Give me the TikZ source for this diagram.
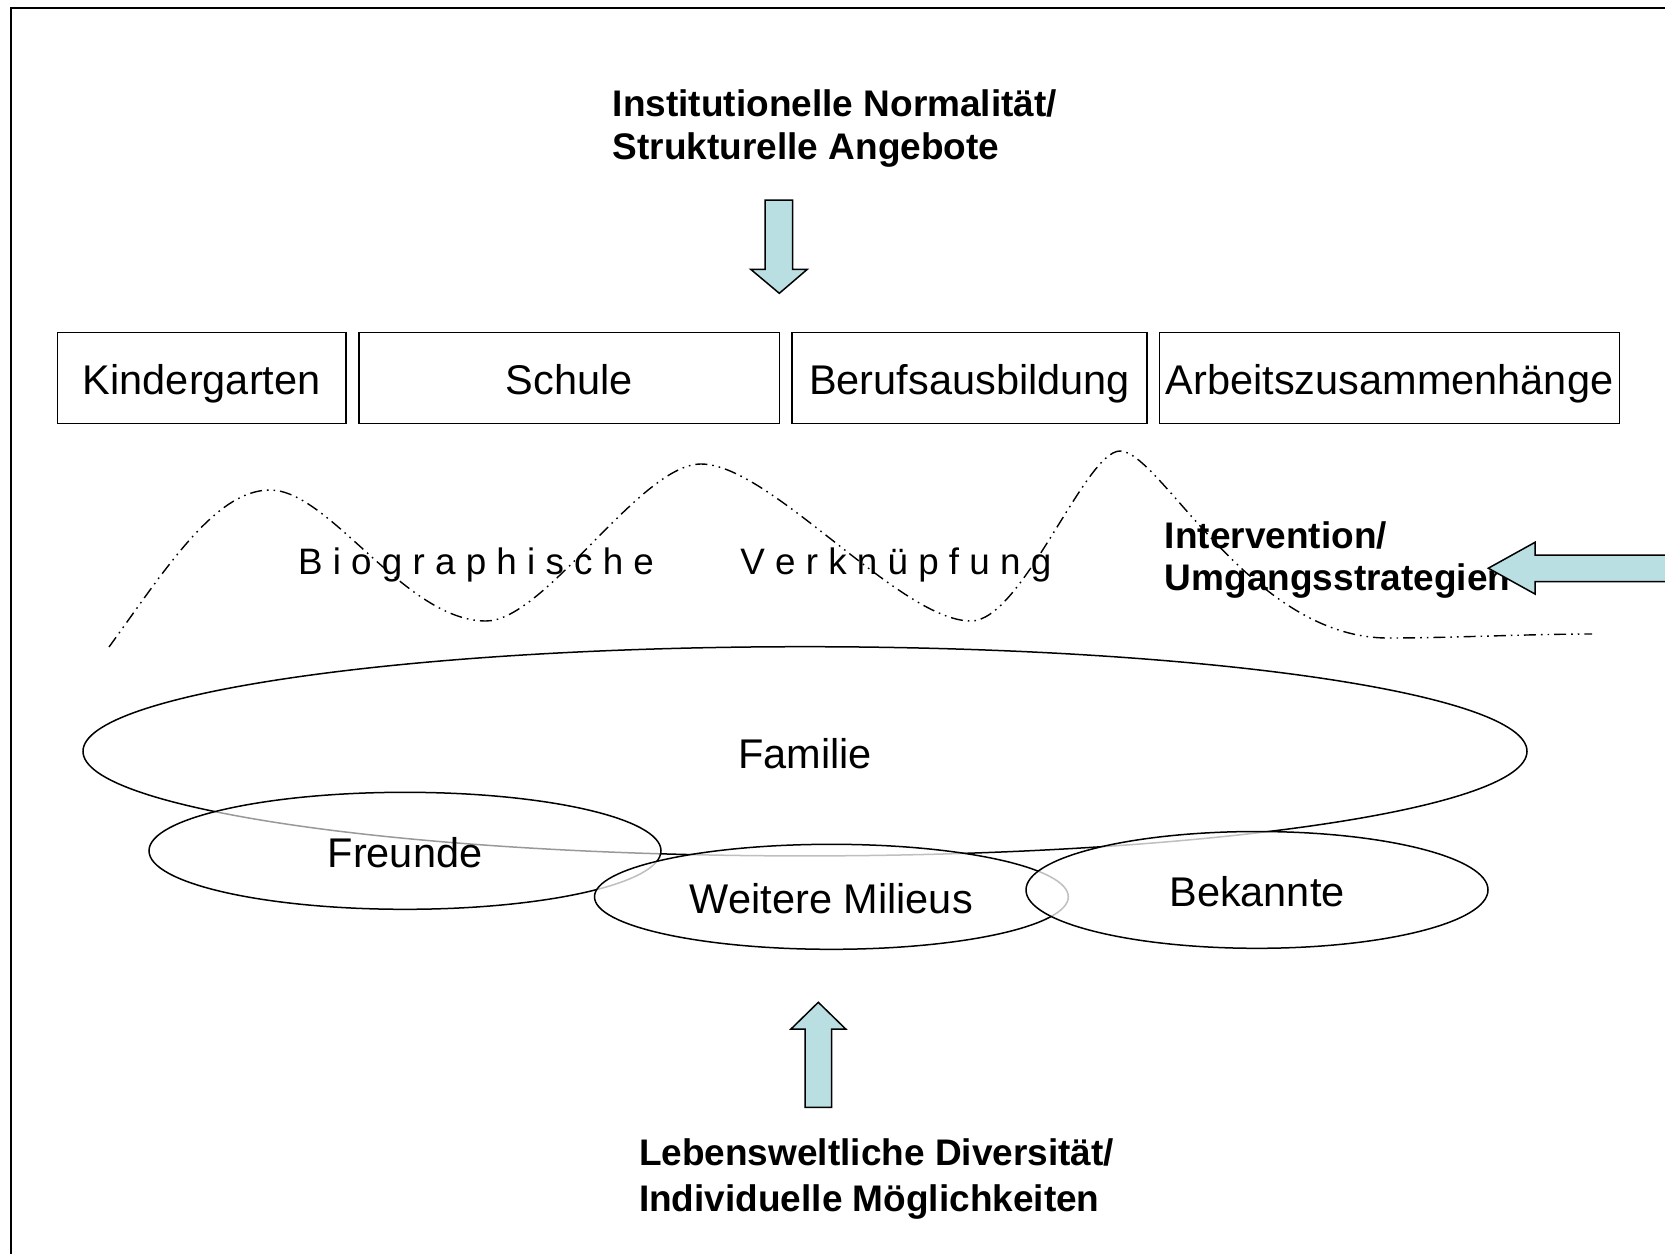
\documentclass[tikz,border=0pt]{standalone}
\usepackage{fontspec}
\setmainfont{Liberation Sans}
\usetikzlibrary{shapes.geometric}
\definecolor{arrowfill}{RGB}{185,223,227}
\begin{document}
\begin{tikzpicture}[x=0.5pt,y=-0.5pt]
\tikzset{
  boxnode/.style={draw, line width=0.75pt, rectangle, inner sep=0pt,
    font=\fontsize{20.75}{24}\selectfont, text height=16.5pt, text depth=0pt},
  ellnode/.style={draw, line width=0.75pt, ellipse, inner sep=0pt, fill=white,
    fill opacity=0.6, text opacity=1,
    font=\fontsize{20.75}{24}\selectfont, text height=17pt, text depth=0pt},
  boldtext/.style={inner sep=0pt, anchor=base west, font=\fontsize{18.5}{22}\selectfont\bfseries},
  biotext/.style={inner sep=0pt, anchor=base west, font=\fontsize{18.4}{22}\selectfont},
  blockarrow/.style={draw, line width=0.75pt, fill=arrowfill, line join=miter},
  wave/.style={line width=0.7pt, dash pattern=on 6pt off 2.5pt on 0.8pt off 2.5pt on 0.8pt off 2.5pt},
}
\useasboundingbox (0,0) rectangle (1665,1253);
\begin{scope}
\clip (0,0) rectangle (1665,1253);
% frame
\draw[line width=1pt] (10.5,1300) -- (10.5,7.5) -- (1720,7.5);

% top title
\node[boldtext] (top1) at (612.5,116.3) {Institutionelle Normalität/};
\node[boldtext] (top2) at (612.5,159.8) {Strukturelle Angebote};

% down arrow
\draw[blockarrow] (765,200) -- (792.7,200) -- (792.7,269.3) -- (807.3,269.3)
  -- (779.3,293.3) -- (750.7,269.3) -- (765,269.3) -- cycle;

% boxes
\node[boxnode, minimum width=144.45pt, minimum height=45.65pt] (kg) at (201.75,378) {Kindergarten};
\node[boxnode, minimum width=210.25pt, minimum height=45.65pt] (sch) at (569.15,378) {Schule};
\node[boxnode, minimum width=177.35pt, minimum height=45.65pt] (ber) at (969.55,378) {Berufsausbildung};
\node[boxnode, minimum width=229.9pt, minimum height=45.65pt] (arb) at (1389.5,378) {Arbeitszusammenhänge};

% biographische verknuepfung
\node[biotext] (bio1) at (297.7,574) {B i o g r a p h i s c h e};
\node[biotext] (bio2) at (740,574) {V e r k n ü p f u n g};

\draw[wave] (109,647) .. controls (165,570) and (215,490) .. (270,490)
  .. controls (330,490) and (405,621) .. (486,621)
  .. controls (545,621) and (640,464) .. (701,464)
  .. controls (770,464) and (900,621) .. (971,621)
  .. controls (1022,621) and (1085,451) .. (1120,451)
  .. controls (1160,451) and (1250,638) .. (1388,638)
  .. controls (1450,638) and (1530,634) .. (1592,634);

% intervention
\node[boldtext] (int1) at (1164.5,548.3) {Intervention/};
\node[boldtext] (int2) at (1164.5,590.7) {Umgangsstrategien};
\draw[blockarrow] (1720,555) -- (1535,555) -- (1535,542.3) -- (1488.3,568.2)
  -- (1535,594) -- (1535,581.7) -- (1720,581.7) -- cycle;

% ellipses
\node[ellnode, minimum width=722pt, minimum height=104.6pt] (fam) at (805,751.3) {Familie};
\node[ellnode, minimum width=256pt, minimum height=58.5pt] (fre) at (405,850.8) {Freunde};
\node[ellnode, minimum width=236.9pt, minimum height=52.5pt, fill opacity=0.75] (wei) at (831.4,896.8) {Weitere Milieus};
\node[ellnode, minimum width=231pt, minimum height=58.4pt, fill opacity=0.75] (bek) at (1257,889.9) {Bekannte};

% up arrow
\draw[blockarrow] (805,1107.3) -- (831.7,1107.3) -- (831.7,1029) -- (845.7,1029)
  -- (818.3,1002.3) -- (791,1029) -- (805,1029) -- cycle;

% bottom title
\node[boldtext] (bot1) at (638.6,1165.5) {Lebensweltliche Diversität/};
\node[boldtext] (bot2) at (638.6,1211) {Individuelle Möglichkeiten};
\end{scope}
\end{tikzpicture}
\end{document}
